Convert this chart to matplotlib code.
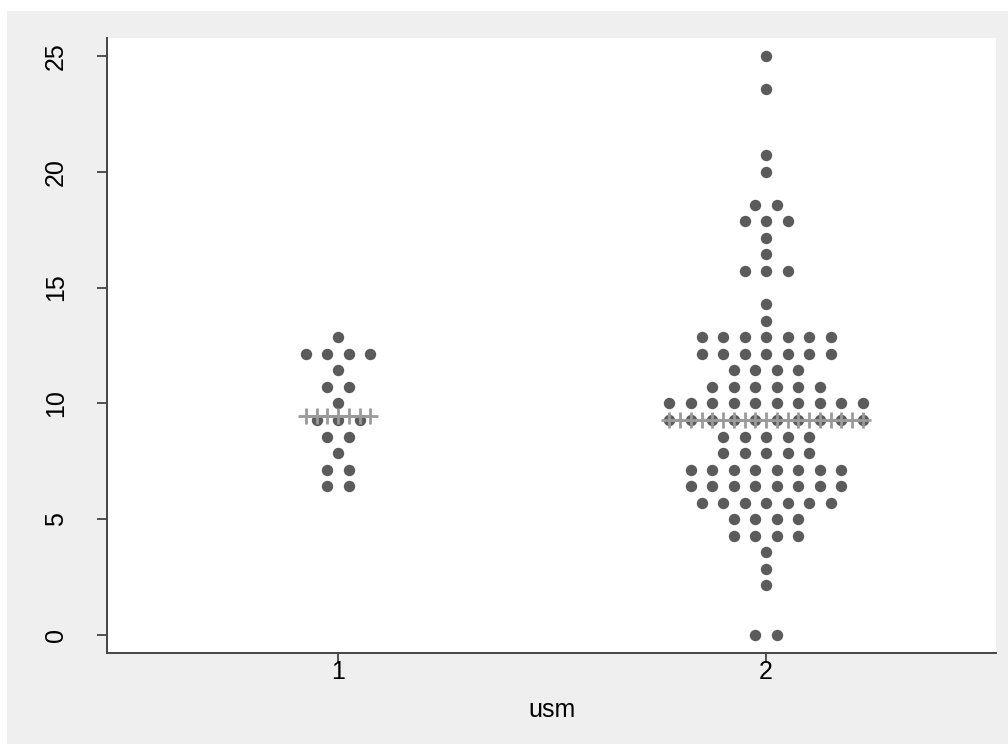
import numpy as np
import matplotlib.pyplot as plt
from matplotlib.patches import Rectangle

plt.rcParams['font.family'] = ['Liberation Sans', 'DejaVu Sans']

# dotplot rows: bin value and number of dots in that row, per group
g1_levels = [6.43, 7.14, 7.86, 8.57, 9.29, 10.0, 10.71, 11.43, 12.14, 12.86]
g1_counts = [2, 2, 1, 2, 3, 1, 2, 1, 4, 1]

g2_levels = [0.0, 2.14, 2.86, 3.57, 4.29, 5.0, 5.71, 6.43, 7.14, 7.86,
             8.57, 9.29, 10.0, 10.71, 11.43, 12.14, 12.86, 13.57, 14.29,
             15.71, 16.43, 17.14, 17.86, 18.57, 20.0, 20.71, 23.57, 25.0]
g2_counts = [2, 1, 1, 1, 4, 4, 7, 8, 8, 5,
             5, 10, 10, 6, 4, 7, 7, 1, 1,
             3, 1, 1, 3, 2, 1, 1, 1, 1]

groups = [1, 2]
medians = [9.45, 9.3]
x_labels = ['1', '2']
y_ticks = [0, 5, 10, 15, 20, 25]

dot_color = '#5b5b5b'
med_color = '#9a9a9a'
gap = 0.0502  # horizontal distance between dots in a row

fig = plt.figure(figsize=(10.08, 7.44), dpi=100)
fig.patch.set_facecolor('white')
fig.patches.append(Rectangle((7 / 1008, 0), 1, (744 - 11) / 744,
                             transform=fig.transFigure, facecolor='#efefef',
                             edgecolor='none', zorder=-10))

ax = fig.add_axes([107 / 1008, 1 - 653 / 744, (996 - 107) / 1008, (653 - 38) / 744])
ax.set_facecolor('white')

for g, levels, counts, med in zip(groups, [g1_levels, g2_levels],
                                  [g1_counts, g2_counts], medians):
    xs, ys = [], []
    for lev, n in zip(levels, counts):
        offs = (np.arange(n) - (n - 1) / 2) * gap
        xs.extend(g + offs)
        ys.extend([lev] * n)
    ax.plot(xs, ys, 'o', color=dot_color, markersize=8.2, markeredgewidth=0, zorder=3)

    # median line spans the widest row, with + marks every half step
    half = (max(counts) - 1) / 2 * gap
    mx = np.linspace(g - half, g + half, 2 * max(counts) - 1)
    ax.plot(mx, [med] * len(mx), '-', color=med_color, lw=2, zorder=4)
    ax.plot(mx, [med] * len(mx), '+', color=med_color, markersize=11,
            markeredgewidth=2, zorder=4)

ax.set_xlim(0.4603, 2.537)
ax.set_ylim(-0.777, 25.777)
ax.set_xticks(groups)
ax.set_xticklabels(x_labels)
ax.set_yticks(y_ticks)
ax.set_yticklabels([str(t) for t in y_ticks], rotation=90, va='center')
ax.tick_params(axis='both', length=7.2, width=1.3, color='#444444', labelsize=18)
ax.tick_params(axis='y', pad=21)
ax.tick_params(axis='x', pad=-2)
ax.set_xlabel('usm', fontsize=18, labelpad=10)

for side in ['top', 'right']:
    ax.spines[side].set_visible(False)
for side in ['left', 'bottom']:
    ax.spines[side].set_color('#444444')
    ax.spines[side].set_linewidth(1.4)

fig.savefig('out.png', dpi=100)
